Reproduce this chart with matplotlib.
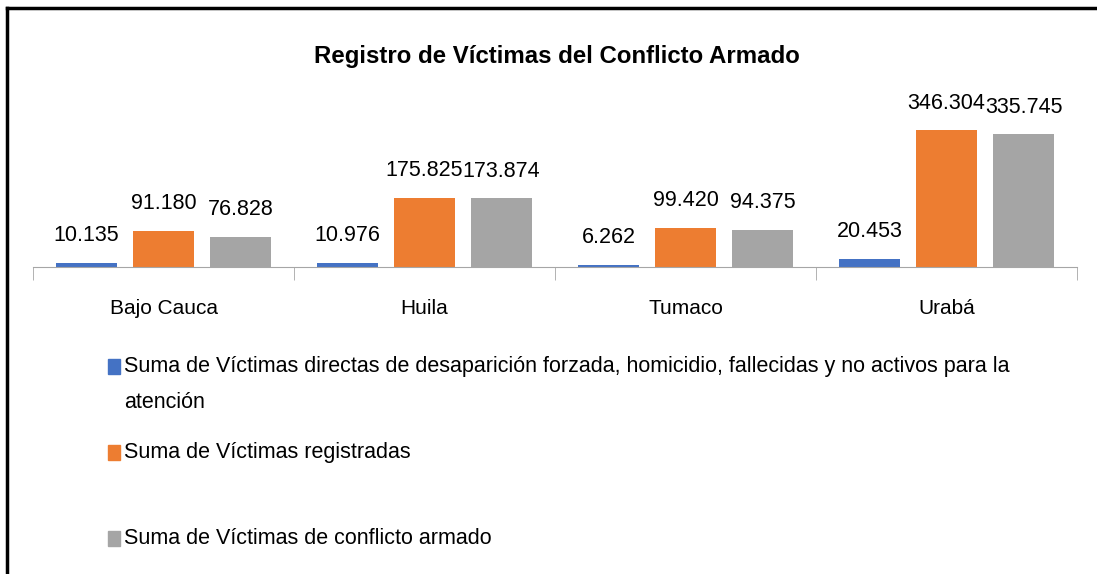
import numpy as np
import matplotlib.pyplot as plt
from matplotlib.lines import Line2D
from matplotlib.patches import Rectangle

FONT = ['Liberation Sans', 'DejaVu Sans']
plt.rcParams['font.family'] = FONT

regions = ['Bajo Cauca', 'Huila', 'Tumaco', 'Urabá']
directas = [10135, 10976, 6262, 20453]
registradas = [91180, 175825, 99420, 346304]
conflicto = [76828, 173874, 94375, 335745]

series_labels = [
    'Suma de Víctimas directas de desaparición forzada, homicidio, fallecidas y no activos para la\natención',
    'Suma de Víctimas registradas',
    'Suma de Víctimas de conflicto armado',
]
colors = ['#4472C4', '#ED7D31', '#A5A5A5']


def fmt(v):
    # thousands separator as a dot
    return f"{v:,}".replace(',', '.')


W, H = 1097, 574
fig = plt.figure(figsize=(W / 100, H / 100), dpi=100)
ax = fig.add_axes([33 / W, 1 - 267 / H, (1077 - 33) / W, 0.2752])

x = np.arange(len(regions))
offsets = [-0.295, 0, 0.295]
width = 0.234
for vals, off, col in zip([directas, registradas, conflicto], offsets, colors):
    bars = ax.bar(x + off, vals, width, color=col)
    for b, v in zip(bars, vals):
        ax.annotate(fmt(v), (b.get_x() + b.get_width() / 2, b.get_height()),
                    xytext=(0, 12), textcoords='offset points',
                    ha='center', va='bottom', fontsize=15.5, color='#000000')

ax.set_xlim(-0.5, len(regions) - 0.5)
ax.set_ylim(0, 400000)
ax.set_yticks([])
for s in ['left', 'right', 'top']:
    ax.spines[s].set_visible(False)
ax.spines['bottom'].set_color('#A6A6A6')
ax.set_xticks(x)
ax.set_xticklabels(regions, fontsize=15)
ax.tick_params(axis='x', which='major', length=0, pad=23)
ax.set_xticks(np.arange(-0.5, len(regions)), minor=True)
ax.tick_params(axis='x', which='minor', length=9, color='#A6A6A6')

fig.text(557 / W, 1 - 56 / H, 'Registro de Víctimas del Conflicto Armado',
         ha='center', va='center', fontsize=17.3, fontweight='bold')

# legend drawn by hand to keep the uneven spacing
legend_y = [366, 452, 538]
for lab, col, yy in zip(series_labels, colors, legend_y):
    fig.patches.append(Rectangle((108 / W, 1 - (yy + 8) / H), 12 / W, 15 / H,
                                 transform=fig.transFigure, color=col))
    fig.text(124 / W, 1 - (yy - 10) / H, lab, ha='left', va='top',
             fontsize=15.5, linespacing=1.95)

# outer frame (left and top edges visible)
fig.lines.append(Line2D([7 / W, 7 / W], [0, 1 - 8 / H], transform=fig.transFigure,
                        color='black', lw=2.5))
fig.lines.append(Line2D([7 / W, 1], [1 - 8 / H, 1 - 8 / H], transform=fig.transFigure,
                        color='black', lw=2.5))

fig.savefig('out.png', dpi=100)
